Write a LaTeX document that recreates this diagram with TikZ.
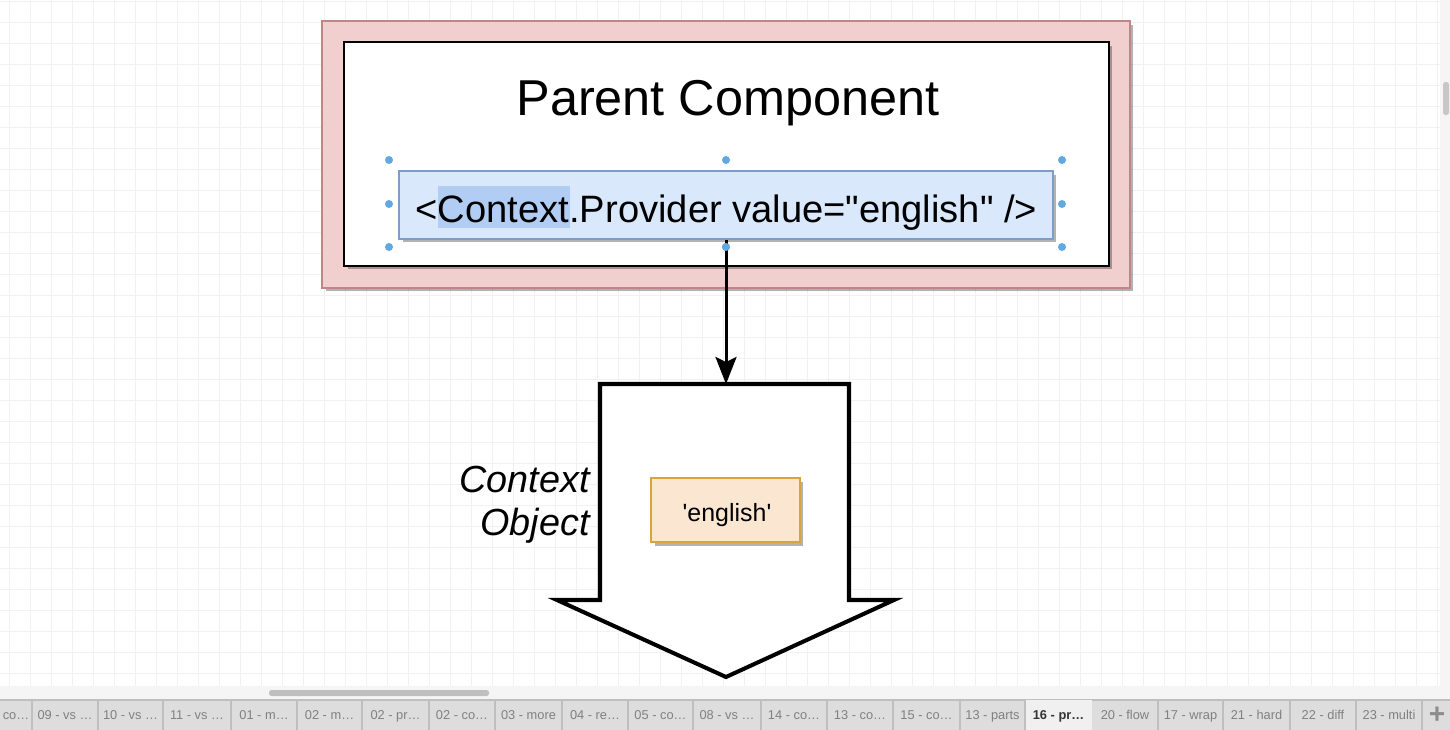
\documentclass[tikz,border=0pt]{standalone}
\usepackage{fontspec}
\setmainfont{Liberation Sans}
\usetikzlibrary{positioning, arrows.meta, shadows}
\definecolor{pinkfill}{HTML}{F2CFCF}
\definecolor{pinkline}{HTML}{C08585}
\definecolor{provfill}{HTML}{DAE8FC}
\definecolor{provline}{HTML}{7F9CC8}
\definecolor{hlblue}{HTML}{B2CDF3}
\definecolor{handleblue}{HTML}{62A9E2}
\definecolor{valfill}{HTML}{FBE6D2}
\definecolor{valline}{HTML}{D6A53C}
\definecolor{gridgray}{HTML}{F1F1F1}
\definecolor{tabgray}{HTML}{DDDDDD}
\tikzset{
  boxshadow/.style={drop shadow={shadow xshift=0.07cm, shadow yshift=-0.07cm, fill=black, opacity=0.3}},
  outerbox/.style={rectangle, minimum width=16.16cm, minimum height=5.34cm, inner sep=0pt, draw=pinkline, fill=pinkfill, line width=1pt, boxshadow},
  innerbox/.style={rectangle, minimum width=15.3cm, minimum height=4.48cm, inner sep=0pt, draw=black, fill=white, line width=1.2pt, boxshadow},
  provbox/.style={rectangle, minimum width=13.08cm, minimum height=1.36cm, inner sep=0pt, draw=provline, fill=provfill, line width=0.8pt, boxshadow},
  valbox/.style={rectangle, minimum width=2.98cm, minimum height=1.28cm, inner sep=0pt, draw=valline, fill=valfill, line width=0.8pt, boxshadow},
  handle/.style={circle, fill=handleblue, minimum size=0.16cm, inner sep=0pt},
  flow/.style={line width=1.7pt, -{Stealth[length=0.54cm, width=0.42cm, inset=0.1cm]}},
  blockarrow/.style={line width=2.3pt, fill=white, line join=miter},
  tablabel/.style={font=\fontsize{7.3}{8}\selectfont, text=black!50, inner sep=0pt, anchor=base}
}
\begin{document}
\begin{tikzpicture}[x=0.02cm, y=-0.02cm]
    \useasboundingbox (0,0) rectangle (1450,730);
    \fill[white] (0,0) rectangle (1450,730);

    % grid
    \foreach \gx in {9,30,...,1440}
      \draw[gridgray, line width=0.5pt] (\gx,0) -- (\gx,686);
    \foreach \gy in {1,22,...,686}
      \draw[gridgray, line width=0.5pt] (0,\gy) -- (1440,\gy);

    % parent component
    \node (parent) [outerbox] at (726,154.5) {};
    \node (inner) [innerbox] at (726.5,154) {};
    \node (title) [anchor=base, inner sep=0pt, font=\fontsize{28.7}{32}\selectfont] at (728,115) {Parent Component};

    \node (provider) [provbox] at (726,205) {};
    \fill[hlblue] (438,186) rectangle (570,228);
    \node (provtext) [anchor=base, inner sep=0pt, font=\fontsize{21.7}{25}\selectfont] at (726.5,222)
    {<Context.Provider value=\textquotedbl english\textquotedbl{} />};

    % selection handles
    \foreach \hx/\hy in {389/160, 726/160, 1062/160, 389/204, 1062/204, 389/247, 726/247, 1062/247}
      \node (h\hx\hy) [handle] at (\hx,\hy) {};

    % context object
    \coordinate (ctxtop) at (726,384);
    \draw[blockarrow] (600,384) -- (849,384) -- (849,600) -- (894,600) -- (726,677)
      -- (557,600) -- (600,600) -- cycle;
    \node (english) [valbox] at (725.5,510) {};
    \node (valtext) [anchor=base, inner sep=0pt, font=\fontsize{14.2}{16}\selectfont] at (727,521)
    {\textquotesingle english\textquotesingle};
    \node (ctxlabel) [anchor=east, inner sep=0pt, align=right, font=\fontsize{21.5}{24.5}\selectfont\itshape] at (590,505)
    {Context\\Object};

    % arrow
    \draw [flow] (provider.south) -- (ctxtop);
    \node (hbottom) [handle] at (726,247) {};

    % scroll bars
    \fill[black!4] (1440,0) rectangle (1450,686);
    \fill[black!22, rounded corners=0.05cm] (1443,82) rectangle (1449,115);
    \fill[black!4] (0,686) rectangle (1450,700);
    \fill[black!25, rounded corners=0.05cm] (269,690) rectangle (489,696);

    % tabs
    \fill[tabgray] (0,700) rectangle (1450,730);
    \draw[black!25, line width=0.6pt] (0,700) -- (1450,700);
    \fill[black!6] (1025,700) rectangle (1092,730);
    \foreach \xa/\xb/\lbl in {0/32/co…, 32/98/09 - vs …, 98/163/10 - vs …, 163/231/11 - vs …,
      231/297/01 - m…, 297/362/02 - m…, 362/429/02 - pr…, 429/495/02 - co…, 495/562/03 - more,
      562/628/04 - re…, 628/693/05 - co…, 693/761/08 - vs …, 761/827/14 - co…, 827/893/13 - co…,
      893/960/15 - co…, 960/1025/13 - parts, 1092/1158/20 - flow, 1158/1223/17 - wrap,
      1223/1290/21 - hard, 1290/1356/22 - diff, 1356/1422/23 - multi}
    {
      \node (tab\xa) [tablabel] at ({(\xa+\xb)/2},719) {\lbl};
      \draw[black!25, line width=0.6pt] (\xb,700) -- (\xb,730);
    }
    \node (tab1025) [tablabel, text=black!80, font=\fontsize{7.3}{8}\selectfont\bfseries] at (1058.5,719) {16 - pr…};
    \node (addtab) [inner sep=0pt, text=black!45, font=\fontsize{16}{16}\selectfont\bfseries] at (1437,715) {+};
\end{tikzpicture}
\end{document}
